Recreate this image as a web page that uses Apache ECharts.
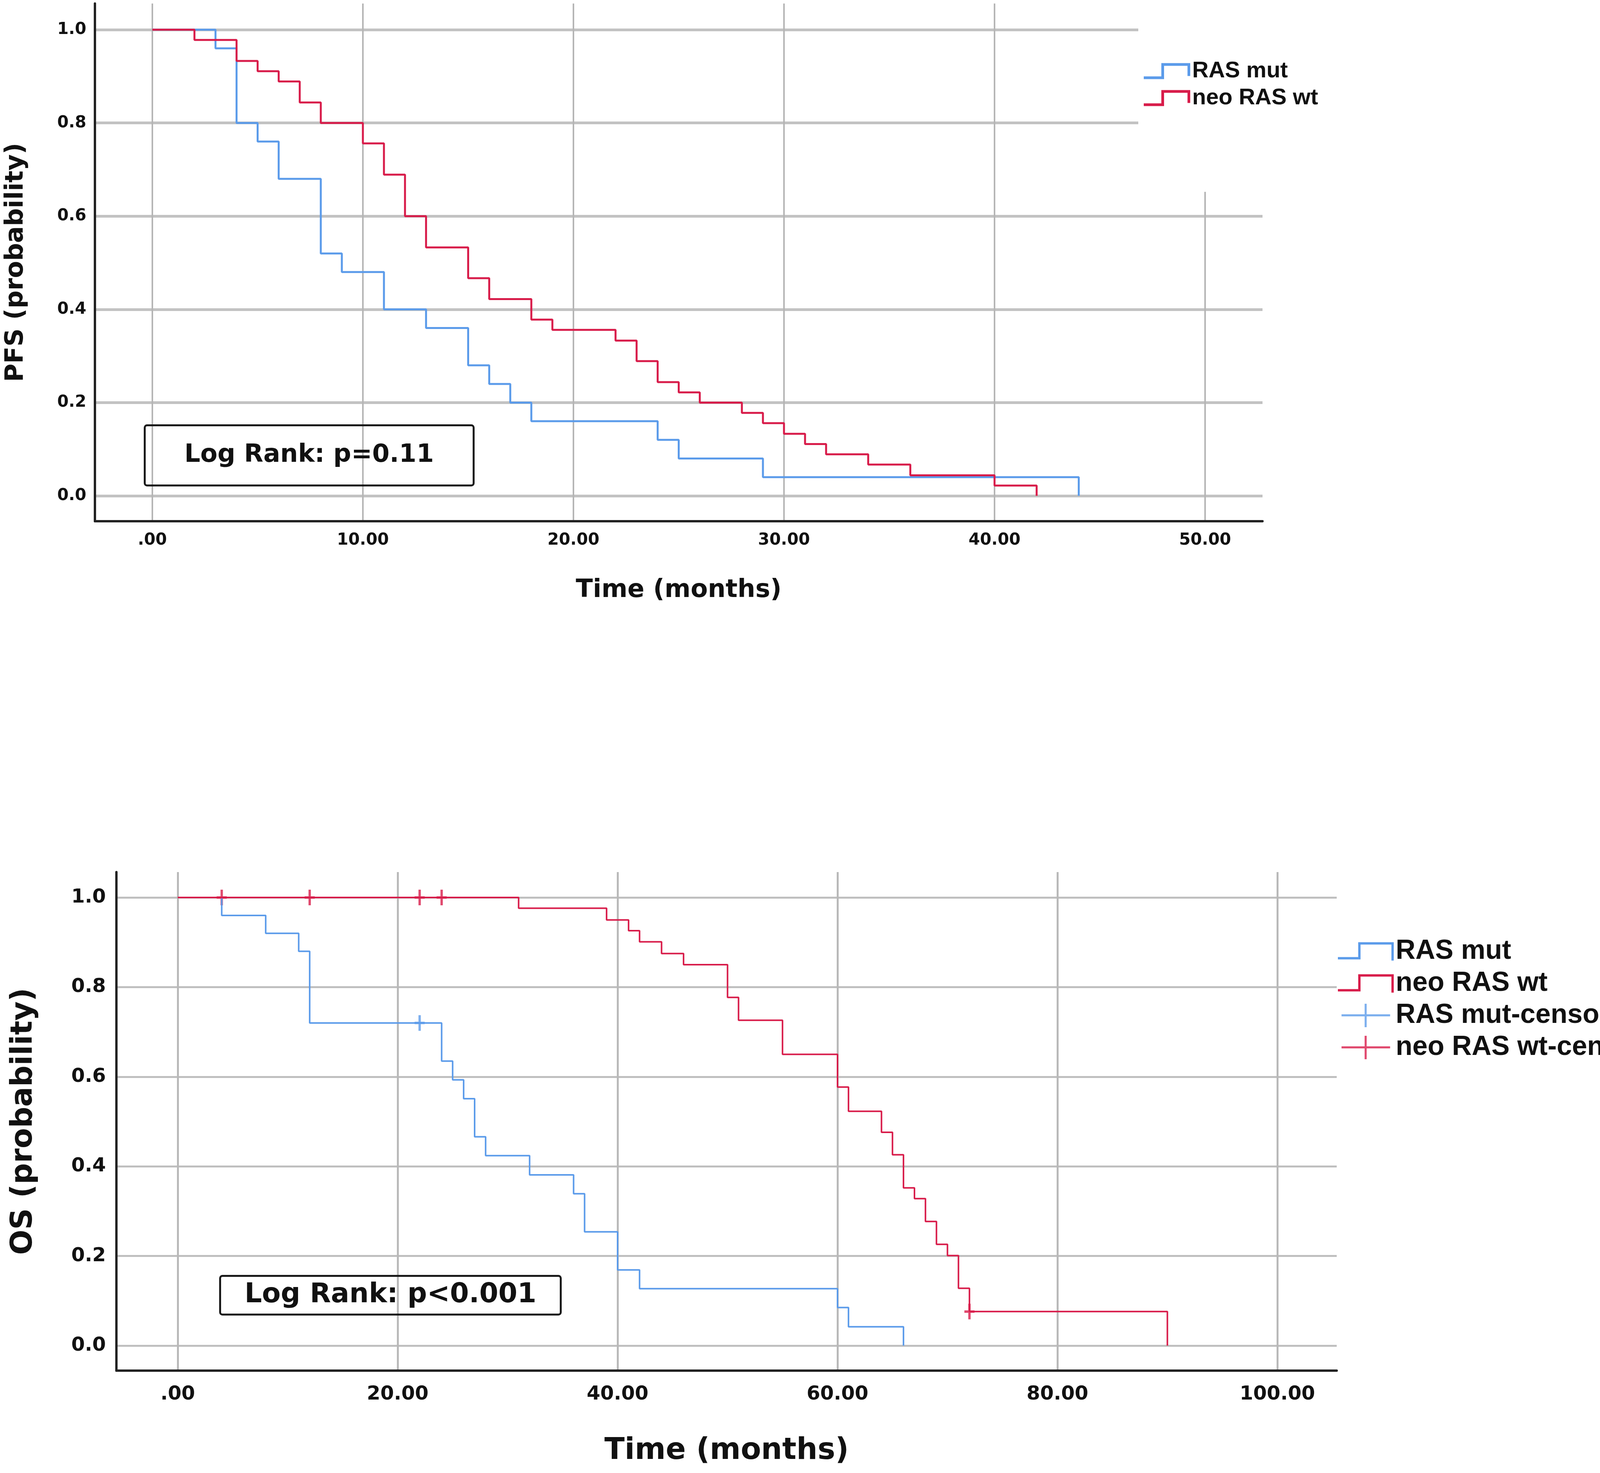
<!DOCTYPE html>
<html>
<head>
<meta charset="utf-8">
<script src="https://cdn.jsdelivr.net/npm/echarts@6/dist/echarts.min.js"></script>
<style>
html, body { margin: 0; padding: 0; background: #fff; }
#chart { width: 4331px; height: 3770px; }
</style>
</head>
<body>
<div id="chart"></div>
<script>
// PFS - Kaplan-Meier steps (time in months, survival probability)
var pfsMutTime = [0, 3, 4, 5, 6, 8, 9, 11, 13, 15, 16, 17, 18, 24, 25, 29, 44];
var pfsMutSurv = [1, 0.96, 0.80, 0.76, 0.68, 0.52, 0.48, 0.40, 0.36, 0.28, 0.24, 0.20, 0.16, 0.12, 0.08, 0.04, 0];
var pfsWtTime = [0, 2, 4, 5, 6, 7, 8, 10, 11, 12, 13, 15, 16, 18, 19, 22, 23, 24, 25, 26, 28, 29, 30, 31, 32, 34, 36, 40, 42];
var pfsWtSurv = [1, 0.978, 0.933, 0.911, 0.889, 0.844, 0.800, 0.756, 0.689, 0.600, 0.533, 0.467, 0.422, 0.378, 0.356, 0.333, 0.289, 0.244, 0.222, 0.200, 0.178, 0.156, 0.133, 0.111, 0.089, 0.067, 0.044, 0.022, 0];

// OS
var osMutTime = [0, 4, 8, 11, 12, 24, 25, 26, 27, 28, 32, 36, 37, 40, 42, 60, 61, 66];
var osMutSurv = [1, 0.96, 0.92, 0.88, 0.72, 0.635, 0.593, 0.551, 0.466, 0.424, 0.381, 0.339, 0.254, 0.169, 0.127, 0.085, 0.042, 0];
var osWtTime = [0, 31, 39, 41, 42, 44, 46, 50, 51, 55, 60, 61, 64, 65, 66, 67, 68, 69, 70, 71, 72, 90];
var osWtSurv = [1, 0.976, 0.950, 0.926, 0.901, 0.875, 0.850, 0.777, 0.726, 0.650, 0.577, 0.523, 0.476, 0.426, 0.352, 0.328, 0.277, 0.226, 0.201, 0.128, 0.076, 0];
var osMutCensTime = [22];
var osMutCensSurv = [0.72];
var osWtCensTime = [4, 12, 22, 24, 72];
var osWtCensSurv = [1, 1, 1, 1, 0.076];

// axis ticks
var pfsTicks = [0, 10, 20, 30, 40, 50];
var osTicks = [0, 20, 40, 60, 80, 100];
var probTicks = [0, 0.2, 0.4, 0.6, 0.8, 1.0];

var seriesNames = ['RAS mut', 'neo RAS wt', 'RAS mut-censored', 'neo RAS wt-censored'];
var blue = '#5b9bea';
var red = '#d81c4a';

function pairs(t, s) {
    var out = [];
    for (var i = 0; i < t.length; i++) out.push([t[i], s[i]]);
    return out;
}

var stepTop = 'path://M0,34 L45,34 L45,0 L119,0 L119,33 L112,33 L112,7 L52,7 L52,41 L0,41 Z';
var stepBot = 'path://M0,38 L52,38 L52,0 L143,0 L143,47 L137,47 L137,6 L58,6 L58,44 L0,44 Z';
var crossBot = 'path://M0,31 L68,31 L68,0 L74,0 L74,31 L143,31 L143,37 L74,37 L74,69 L68,69 L68,37 L0,37 Z';
var censorMark = 'path://M0,16 L26,16 L26,22 L0,22 Z M10,0 L16,0 L16,38 L10,38 Z';

var tickFont = { fontFamily: 'DejaVu Sans', fontWeight: 'bold', color: '#111' };

function xLabel(v) { return v === 0 ? '.00' : v.toFixed(2); }
function yLabel(v) { return v.toFixed(1); }

var dom = document.getElementById('chart');
var myChart = echarts.init(dom, null, { renderer: 'canvas' });

var option = {
    animation: false,
    backgroundColor: '#fff',
    title: [{
        text: 'Log Rank: p=0.11',
        left: 370, top: 1088,
        padding: [39, 102],
        borderColor: '#1a1a1a', borderWidth: 5, borderRadius: 6,
        textStyle: { fontFamily: 'DejaVu Sans', fontWeight: 'bold', fontSize: 64, lineHeight: 77, color: '#111' }
    }, {
        text: 'Log Rank: p<0.001',
        left: 563, top: 3265,
        padding: [10, 63],
        borderColor: '#1a1a1a', borderWidth: 5, borderRadius: 6,
        textStyle: { fontFamily: 'DejaVu Sans', fontWeight: 'bold', fontSize: 70, lineHeight: 80, color: '#111' }
    }],
    legend: [{
        selectedMode: false,
        orient: 'vertical',
        left: 2914, top: 0,
        padding: [153, 40, 211, 14],
        backgroundColor: '#fff',
        itemWidth: 119, itemHeight: 41, itemGap: 11,
        textStyle: { fontFamily: 'Liberation Sans', fontWeight: 'bold', fontSize: 58, color: '#111' },
        data: [
            { name: seriesNames[0], icon: stepTop, itemStyle: { color: blue, borderWidth: 0 } },
            { name: seriesNames[1], icon: stepTop, itemStyle: { color: red, borderWidth: 0 } }
        ]
    }, {
        selectedMode: false,
        orient: 'vertical',
        left: 3425, top: 2400,
        padding: 0,
        itemWidth: 143, itemHeight: 60, itemGap: 12,
        textStyle: { fontFamily: 'Liberation Sans', fontWeight: 'bold', fontSize: 70, color: '#111' },
        data: [
            { name: seriesNames[0], icon: stepBot, itemStyle: { color: blue, borderWidth: 0 } },
            { name: seriesNames[1], icon: stepBot, itemStyle: { color: red, borderWidth: 0 } },
            { name: seriesNames[2], icon: crossBot, itemStyle: { color: blue, borderWidth: 0 } },
            { name: seriesNames[3], icon: crossBot, itemStyle: { color: red, borderWidth: 0 } }
        ]
    }],
    grid: [
        { left: 243, top: 9, width: 2989, height: 1325 },
        { left: 298, top: 2232, width: 3124, height: 1276 }
    ],
    xAxis: [{
        gridIndex: 0, type: 'value', min: -2.727, max: 52.727,
        name: 'Time (months)', nameLocation: 'middle', nameGap: 145,
        nameTextStyle: { fontFamily: 'DejaVu Sans', fontWeight: 'bold', fontSize: 64, color: '#111' },
        axisLine: { show: true, onZero: false, lineStyle: { color: '#222', width: 6 } },
        axisTick: { show: false, customValues: pfsTicks },
        axisLabel: Object.assign({ customValues: pfsTicks, fontSize: 42, margin: 28, formatter: xLabel }, tickFont),
        splitLine: { show: true, lineStyle: { color: '#b5b5b5', width: 4 } }
    }, {
        gridIndex: 1, type: 'value', min: -5.577, max: 105.4,
        name: 'Time (months)', nameLocation: 'middle', nameGap: 168,
        nameTextStyle: { fontFamily: 'DejaVu Sans', fontWeight: 'bold', fontSize: 76, color: '#111' },
        axisLine: { show: true, onZero: false, lineStyle: { color: '#222', width: 6 } },
        axisTick: { show: false, customValues: osTicks },
        axisLabel: Object.assign({ customValues: osTicks, fontSize: 50, margin: 36, formatter: xLabel }, tickFont),
        splitLine: { show: true, lineStyle: { color: '#b9b9b9', width: 5 } }
    }],
    yAxis: [{
        gridIndex: 0, type: 'value', min: -0.0545, max: 1.0562,
        name: 'PFS (probability)', nameLocation: 'middle', nameGap: 170, nameRotate: 90,
        nameTextStyle: { fontFamily: 'DejaVu Sans', fontWeight: 'bold', fontSize: 64, color: '#111' },
        axisLine: { show: true, onZero: false, lineStyle: { color: '#222', width: 6 } },
        axisTick: { show: false, customValues: probTicks },
        axisLabel: Object.assign({ customValues: probTicks, fontSize: 42, margin: 22, formatter: yLabel }, tickFont),
        splitLine: { show: true, lineStyle: { color: '#c2c2c2', width: 7 } }
    }, {
        gridIndex: 1, type: 'value', min: -0.0558, max: 1.0567,
        name: 'OS (probability)', nameLocation: 'middle', nameGap: 199, nameRotate: 90,
        nameTextStyle: { fontFamily: 'DejaVu Sans', fontWeight: 'bold', fontSize: 76, color: '#111' },
        axisLine: { show: true, onZero: false, lineStyle: { color: '#222', width: 6 } },
        axisTick: { show: false, customValues: probTicks },
        axisLabel: Object.assign({ customValues: probTicks, fontSize: 50, margin: 27, formatter: yLabel }, tickFont),
        splitLine: { show: true, lineStyle: { color: '#bfbfbf', width: 5 } }
    }],
    series: [{
        name: seriesNames[0], type: 'line', step: 'end', xAxisIndex: 0, yAxisIndex: 0,
        symbol: 'none', color: blue, lineStyle: { width: 5, color: blue },
        data: pairs(pfsMutTime, pfsMutSurv)
    }, {
        name: seriesNames[1], type: 'line', step: 'end', xAxisIndex: 0, yAxisIndex: 0,
        symbol: 'none', color: red, lineStyle: { width: 5, color: red },
        data: pairs(pfsWtTime, pfsWtSurv)
    }, {
        name: seriesNames[0], type: 'line', step: 'end', xAxisIndex: 1, yAxisIndex: 1,
        symbol: 'none', color: blue, lineStyle: { width: 4, color: blue },
        data: pairs(osMutTime, osMutSurv)
    }, {
        name: seriesNames[1], type: 'line', step: 'end', xAxisIndex: 1, yAxisIndex: 1,
        symbol: 'none', color: red, lineStyle: { width: 4, color: red },
        data: pairs(osWtTime, osWtSurv)
    }, {
        name: seriesNames[2], type: 'scatter', xAxisIndex: 1, yAxisIndex: 1,
        symbol: censorMark, symbolSize: [26, 40], itemStyle: { color: blue },
        data: pairs(osMutCensTime, osMutCensSurv)
    }, {
        name: seriesNames[3], type: 'scatter', xAxisIndex: 1, yAxisIndex: 1,
        symbol: censorMark, symbolSize: [26, 40], itemStyle: { color: red },
        data: pairs(osWtCensTime, osWtCensSurv)
    }]
};

if (option && typeof option === 'object') {
    myChart.setOption(option, true);
}
</script>
</body>
</html>
